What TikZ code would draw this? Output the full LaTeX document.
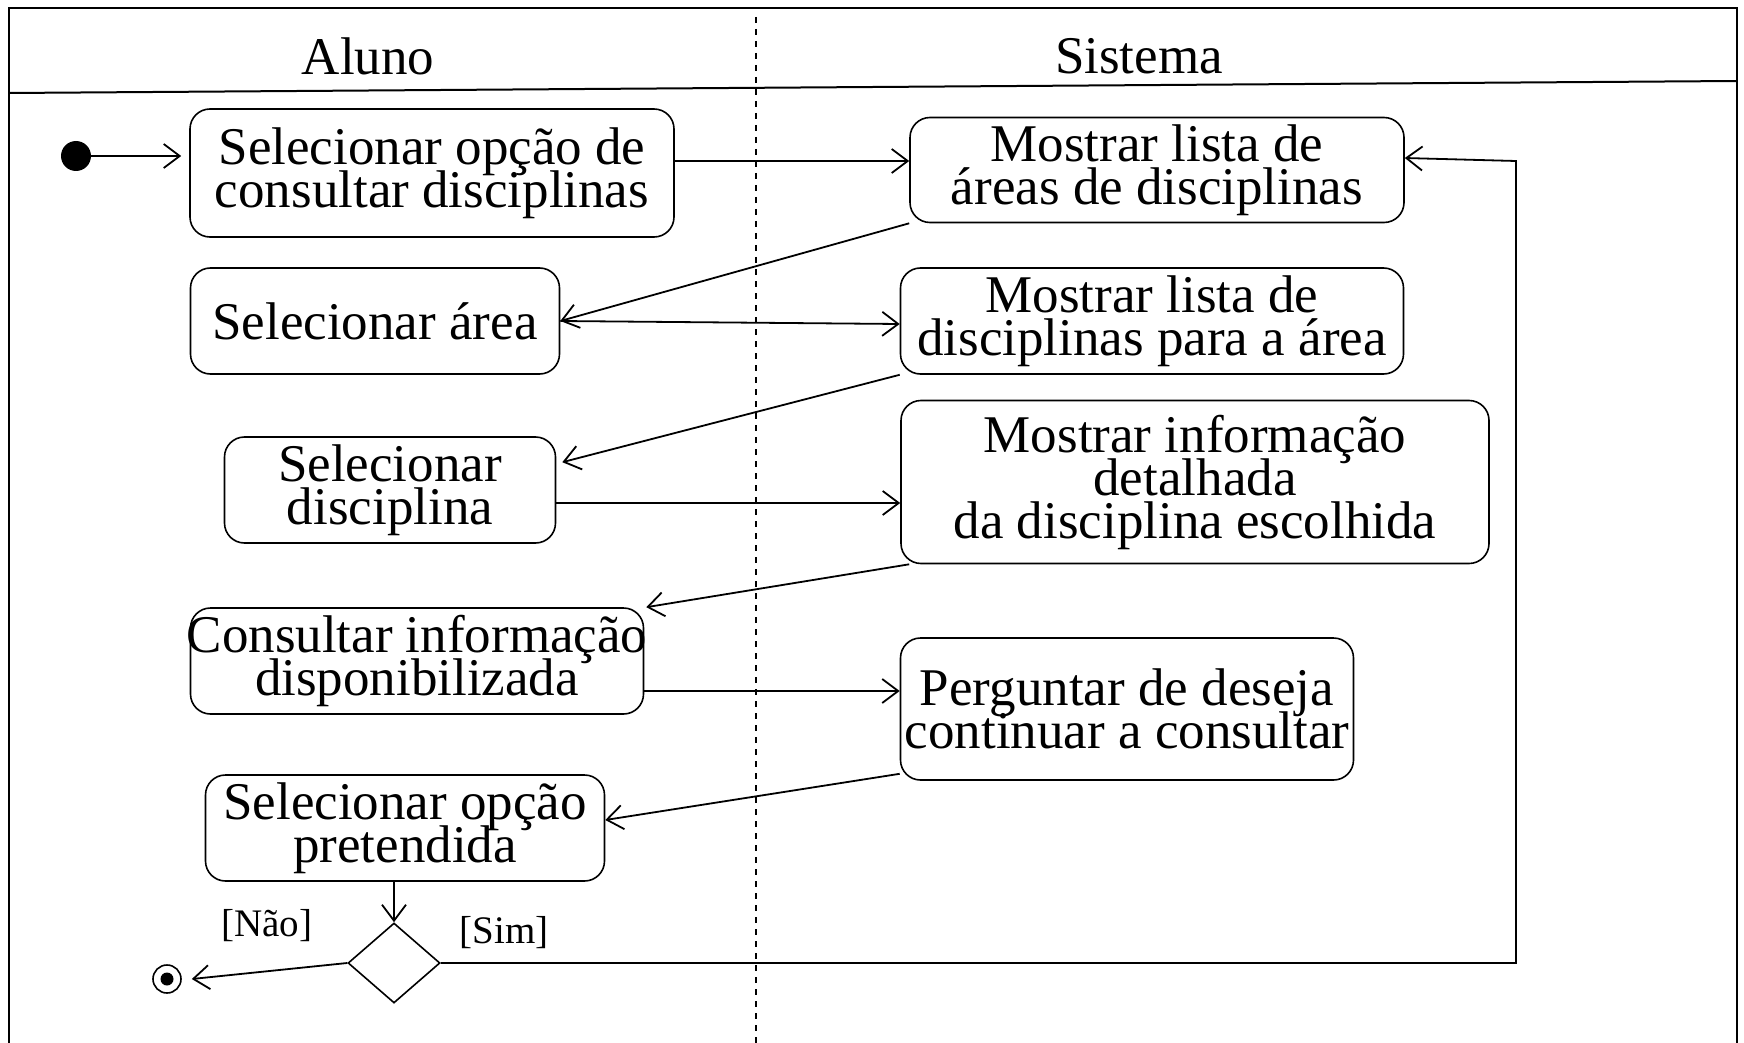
\documentclass[tikz,border=0pt]{standalone}
\usepackage{fontspec}
\setmainfont{Liberation Serif}
\usetikzlibrary{arrows.meta,shapes.geometric}
\newcommand\mytight{\lineskiplimit=-50pt\relax\lineskip=0pt\relax}
\begin{document}
\begin{tikzpicture}[x=0.5pt,y=-0.5pt,
  act/.style={draw,rounded corners=10pt,line width=0.8pt,align=center,inner sep=0pt,font=\fontsize{26.5}{21.5}\selectfont\mytight},
  hdr/.style={font=\fontsize{26.5}{22}\selectfont,inner sep=0pt},
  guard/.style={font=\fontsize{19.5}{22}\selectfont,inner sep=0pt},
  flow/.style={line width=0.9pt,-{Straight Barb[length=8pt,width=12pt,line width=0.9pt]}},
  ]
\useasboundingbox (0,0) rectangle (1744,1043);
\fill[white] (0,0) rectangle (1744,1043);
\draw[line width=1pt] (9,1043) -- (9,8) -- (1737,8) -- (1737,1043);
\draw[line width=1pt] (9,93) -- (1737,81);
\draw[dashed, line width=0.6pt] (756,17) -- (756,1043);
\node[hdr] (hAluno) at (368,56) {Aluno};
\node[hdr] (hSistema) at (1139,56) {Sistema};

\node[circle,fill=black,minimum size=15pt,inner sep=0pt] (init) at (76,156) {};
\node[act,minimum width=242pt,minimum height=64pt] (A1) at (432,173) {Selecionar opção de\\consultar disciplinas};
\node[act,minimum width=247pt,minimum height=52.5pt] (S1) at (1157,170) {Mostrar lista de\\áreas de disciplinas};
\node[act,minimum width=184.5pt,minimum height=53pt] (A2) at (375,321) {Selecionar área};
\node[act,minimum width=251.5pt,minimum height=53pt] (S2) at (1152,321) {Mostrar lista de\\disciplinas para a área};
\node[act,minimum width=165.5pt,minimum height=53pt] (A3) at (390,490) {Selecionar\\disciplina};
\node[act,minimum width=294pt,minimum height=81.5pt] (S3) at (1195,482) {Mostrar informação\\detalhada\\ da disciplina escolhida};
\node[act,minimum width=226.5pt,minimum height=53pt] (A4) at (417,661) {\makebox[0pt][c]{Consultar informação}\\disponibilizada};
\node[act,minimum width=226.5pt,minimum height=71pt] (S4) at (1127,709) {Perguntar de deseja\\\makebox[0pt][c]{continuar a consultar}};
\node[act,minimum width=199.5pt,minimum height=53pt] (A5) at (405,828) {Selecionar opção\\pretendida};
\node[diamond,draw,line width=0.8pt,minimum width=46pt,minimum height=40pt,inner sep=0pt] (D) at (394,963) {};
\node[circle,draw,line width=0.8pt,minimum size=14pt,inner sep=0pt] (fin) at (167,979) {};
\node[circle,fill=black,minimum size=6.5pt,inner sep=0pt] (finin) at (fin) {};
\node[guard] (gNao) at (267,926) {[Não]};
\node[guard] (gSim) at (504,933) {[Sim]};

\draw[flow] (init) -- ([xshift=-4pt]init -| A1.west);
\coordinate (p1) at ([yshift=6pt]A1.east);
\draw[flow] (p1) -- (p1 -| S1.west);
\draw[flow] (S1.south west) -- (A2.east);
\draw[flow] (A2.east) -- ([yshift=-1.5pt]S2.west);
\draw[flow] (S2.south west) -- ([xshift=3pt,yshift=-13pt]A3.north east);
\coordinate (p3) at ([yshift=-6.5pt]A3.east);
\draw[flow] (p3) -- (p3 -| S3.west);
\draw[flow] ([xshift=4.5pt]S3.south west) -- ([xshift=1pt]A4.north east);
\coordinate (p4) at ([yshift=-15pt]A4.east);
\draw[flow] (p4) -- (p4 -| S4.west);
\draw[flow] ([yshift=3.5pt]S4.south west) -- ([yshift=4pt]A5.east);
\draw[flow] (A5.south -| D.north) -- (D.north);
\draw[flow] (D.west) -- ([xshift=5pt]fin.east);
\coordinate (lp) at (1516,161);
\draw[flow] (D.east) -| (lp) -- ([yshift=6pt]S1.east);
\end{tikzpicture}
\end{document}
